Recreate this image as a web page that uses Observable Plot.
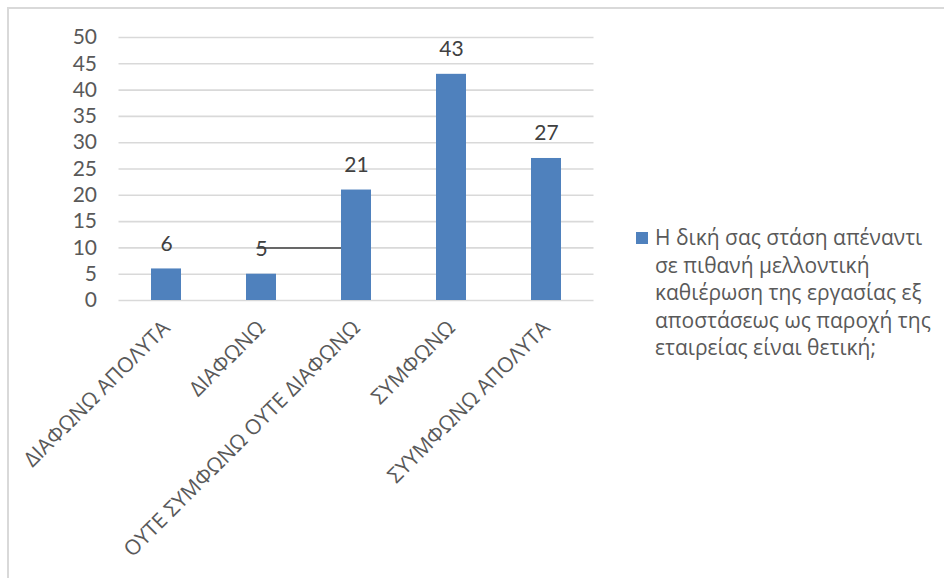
<!DOCTYPE html>
<html>
<head>
<meta charset="utf-8">
<script src="https://cdn.jsdelivr.net/npm/d3@7"></script>
<script src="https://cdn.jsdelivr.net/npm/@observablehq/plot@0.6"></script>
<style>
  html, body { margin: 0; padding: 0; background: #fff; }
  #chart { position: relative; width: 944px; height: 578px; overflow: hidden; font-family: "Open Sans", sans-serif; }
  #frame { position: absolute; left: 7px; top: 7px; width: 1000px; height: 1000px;
           border-left: 2px solid #d9d9d9; border-top: 2px solid #d9d9d9; box-sizing: border-box; }
  #chart svg { position: absolute; left: 0; top: 0; }
  #legend { position: absolute; left: 636px; top: 224px; color: #595959; font-size: 21px; line-height: 27.6px; }
  #legend .swatch { position: absolute; left: 0; top: 8px; width: 12px; height: 12px; background: #4f81bd; }
  #legend .lines { margin-left: 19px; white-space: nowrap; }
</style>
</head>
<body>
<div id="chart">
  <div id="frame"></div>
  <div id="legend"><div class="swatch"></div><div class="lines"></div></div>
</div>
<script>
// Survey answers and their counts
const categories = [
  "ΔΙΑΦΩΝΩ ΑΠΟΛΥΤΑ",
  "ΔΙΑΦΩΝΩ",
  "ΟΥΤΕ ΣΥΜΦΩΝΩ ΟΥΤΕ ΔΙΑΦΩΝΩ",
  "ΣΥΜΦΩΝΩ",
  "ΣΥΥΜΦΩΝΩ ΑΠΟΛΥΤΑ"
];
const counts = [6, 5, 21, 43, 27];
const yTicks = [0, 5, 10, 15, 20, 25, 30, 35, 40, 45, 50];
const seriesName = [
  "Η δική σας στάση απέναντι",
  "σε πιθανή μελλοντική",
  "καθιέρωση της εργασίας εξ",
  "αποστάσεως ως παροχή της",
  "εταιρείας είναι θετική;"
];
// stray connector line drawn across the second category
const connector = [{from: "ΔΙΑΦΩΝΩ", to: "ΟΥΤΕ ΣΥΜΦΩΝΩ ΟΥΤΕ ΔΙΑΦΩΝΩ", level: 10}];

const data = categories.map((c, i) => ({category: c, count: counts[i]}));
const numberFont = "Lato, 'Open Sans', sans-serif";

const plot = Plot.plot({
  width: 944,
  height: 578,
  marginLeft: 118.5,
  marginRight: 350.5,
  marginTop: 37,
  marginBottom: 278,
  style: {fontFamily: "'Open Sans', sans-serif", fontSize: "21px", color: "#595959", background: "transparent"},
  x: {domain: categories, paddingInner: 0.684, paddingOuter: 0.342, label: null},
  y: {domain: [0, 50], label: null},
  marks: [
    Plot.gridY(yTicks, {stroke: "#d9d9d9", strokeOpacity: 1, strokeWidth: 1.6}),
    Plot.axisY(yTicks, {tickSize: 0, tickPadding: 22, fill: "#595959", fontSize: 21, fontFamily: numberFont, label: null}),
    Plot.axisX({tickSize: 0, tickRotate: -45, tickPadding: 24, fill: "#595959", fontSize: 21, label: null}),
    Plot.link(connector, {x1: "from", x2: "to", y1: "level", y2: "level", dx: -5, stroke: "#404040", strokeWidth: 1.5}),
    Plot.barY(data, {x: "category", y: "count", fill: "#4f81bd"}),
    Plot.text(data, {x: "category", y: "count", text: d => String(d.count), dy: -25, fill: "#404040", fontSize: 21, fontFamily: numberFont})
  ]
});

document.getElementById("chart").appendChild(plot);
document.querySelector("#legend .lines").innerHTML = seriesName.map(s => `<div>${s}</div>`).join("");
</script>
</body>
</html>
